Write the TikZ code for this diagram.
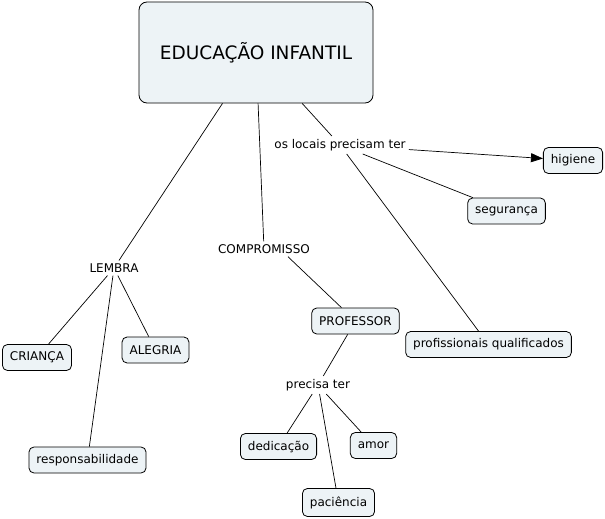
\documentclass[tikz,border=0pt]{standalone}
\usepackage{fontspec}
\setmainfont{DejaVu Sans}
\usetikzlibrary{arrows.meta}
\definecolor{boxfill}{HTML}{EDF3F6}
\begin{document}
\begin{tikzpicture}[x=1pt,y=-1pt,
  concept/.style={draw=black,line width=0.8pt,fill=boxfill,rounded corners=5pt,
    font=\fontsize{12}{14}\selectfont,inner xsep=7.5pt,minimum height=26pt},
  lbl/.style={font=\fontsize{12}{14}\selectfont,inner sep=3pt},
  link/.style={draw=black,line width=0.7pt}]
\useasboundingbox (0,0) rectangle (605,519);
\fill[white] (0,0) rectangle (605,519);
\node[concept,rounded corners=8pt,minimum width=234pt,minimum height=101pt,font=\fontsize{18.5}{22}\selectfont] (main) at (256,52.5) {EDUCAÇÃO INFANTIL};
\node[lbl] (lembra) at (114,268) {LEMBRA};
\node[lbl] (comp) at (264,249) {COMPROMISSO};
\node[lbl] (locais) at (340,145) {os locais precisam ter};
\node[lbl] (precisa) at (318,385) {precisa ter};
\node[concept] (higiene) at (573,160.5) {higiene};
\node[concept] (seg) at (506.5,211) {segurança};
\node[concept] (prof) at (355.5,321) {PROFESSOR};
\node[concept] (qual) at (488.5,344.5) {profissionais qualificados};
\node[concept] (crianca) at (37,357.5) {CRIANÇA};
\node[concept] (alegria) at (155.5,350) {ALEGRIA};
\node[concept] (resp) at (87.5,460) {responsabilidade};
\node[concept] (ded) at (278.5,446.5) {dedicação};
\node[concept] (amor) at (373.5,445.5) {amor};
\node[concept,minimum height=28pt] (pac) at (338.5,502.5) {paciência};

\draw[link] (main) -- (comp);
\draw[link] (main) -- (lembra);
\draw[link] (main) -- (locais);
\draw[link] (lembra) -- (crianca);
\draw[link] (lembra) -- (alegria);
\draw[link] (lembra) -- (resp);
\draw[link] ([xshift=24pt]comp.south) -- (prof);
\draw[link] (prof) -- (precisa);
\draw[link] (precisa) -- (ded);
\draw[link] (precisa) -- (amor);
\draw[link] (precisa) -- (pac);
\draw[link,-{Triangle[length=12pt,width=9pt]}] (locais) -- (higiene);
\draw[link] (locais) -- (seg);
\draw[link] (locais) -- (qual);
\end{tikzpicture}
\end{document}
